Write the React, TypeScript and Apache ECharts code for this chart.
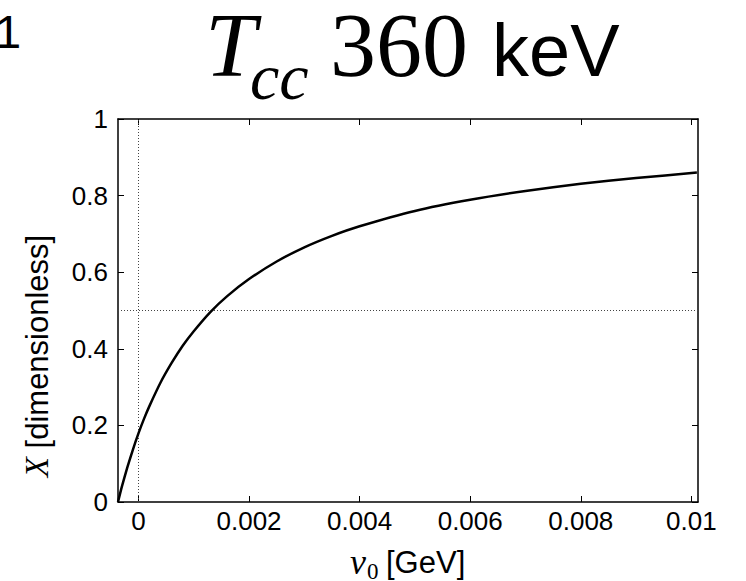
import React, { useEffect, useRef } from "react";
import * as echarts from "echarts";

// Data
const nuValues = [-0.00037, -0.0003, -0.0002, -0.0001, 0, 0.0001, 0.0002, 0.0004, 0.0006, 0.0008, 0.001, 0.0013, 0.0016, 0.002, 0.0025, 0.003, 0.0035, 0.004, 0.005, 0.006, 0.007, 0.008, 0.009, 0.0101];
const xValues = [0, 0.04, 0.091, 0.137, 0.179, 0.217, 0.251, 0.312, 0.363, 0.408, 0.446, 0.496, 0.537, 0.582, 0.628, 0.665, 0.695, 0.72, 0.76, 0.789, 0.812, 0.831, 0.846, 0.86];
const xTicks = [0, 0.002, 0.004, 0.006, 0.008, 0.01];
const xTickLabels = ["0", "0.002", "0.004", "0.006", "0.008", "0.01"];
const yTicks = [0, 0.2, 0.4, 0.6, 0.8, 1];
const yTickLabels = ["0", "0.2", "0.4", "0.6", "0.8", "1"];
const refX = 0;
const refY = 0.5;

const SANS = "'Liberation Sans', Arial, Helvetica, sans-serif";
const SERIF = "'Liberation Serif', 'Times New Roman', serif";

export default function App() {
  const ref = useRef<HTMLDivElement>(null);
  useEffect(() => {
    if (!ref.current) return;
    const chart = echarts.init(ref.current, undefined, { renderer: "svg" });
    const XMIN = -0.00037;
    const XMAX = 0.01012;
    const fmtX = (v: number) => {
      const i = xTicks.findIndex((t) => Math.abs(t - v) < 1e-9);
      return i >= 0 ? xTickLabels[i] : "";
    };
    const fmtY = (v: number) => {
      const i = yTicks.findIndex((t) => Math.abs(t - v) < 1e-9);
      return i >= 0 ? yTickLabels[i] : "";
    };
    const axisLine = { show: true, onZero: false, lineStyle: { color: "#000", width: 1.5 } };
    const xTick = {
      show: true,
      inside: true,
      length: 6,
      customValues: xTicks,
      lineStyle: { color: "#000", width: 1 },
    };
    const yTick = { show: true, inside: true, length: 6, lineStyle: { color: "#000", width: 1 } };
    chart.setOption({
      animation: false,
      backgroundColor: "#fff",
      grid: { left: 118, top: 119, width: 580, height: 383, containLabel: false },
      xAxis: [
        {
          type: "value",
          position: "bottom",
          min: XMIN,
          max: XMAX,
          axisLine,
          axisTick: xTick,
          splitLine: { show: false },
          axisLabel: {
            show: true,
            customValues: xTicks,
            formatter: fmtX,
            margin: 6,
            color: "#000",
            fontFamily: SANS,
            fontSize: 26,
          },
        },
        {
          type: "value",
          position: "top",
          min: XMIN,
          max: XMAX,
          axisLine,
          axisTick: xTick,
          splitLine: { show: false },
          axisLabel: { show: false },
        },
      ],
      yAxis: [
        {
          type: "value",
          position: "left",
          min: 0,
          max: 1,
          interval: 0.2,
          axisLine,
          axisTick: yTick,
          splitLine: { show: false },
          axisLabel: {
            show: true,
            formatter: fmtY,
            margin: 10,
            color: "#000",
            fontFamily: SANS,
            fontSize: 26,
          },
        },
        {
          type: "value",
          position: "right",
          min: 0,
          max: 1,
          interval: 0.2,
          axisLine,
          axisTick: yTick,
          splitLine: { show: false },
          axisLabel: { show: false },
        },
      ],
      series: [
        {
          type: "line",
          xAxisIndex: 0,
          yAxisIndex: 0,
          data: nuValues.map((v, i) => [v, xValues[i]]),
          showSymbol: false,
          smooth: 0.2,
          lineStyle: { color: "#000", width: 2.5 },
          z: 5,
          markLine: {
            silent: true,
            symbol: "none",
            label: { show: false },
            lineStyle: { color: "#444", width: 1, type: [1, 2] },
            data: [{ xAxis: refX }, { yAxis: refY }],
            z: 1,
          },
        },
      ],
      graphic: [
        { type: "text", x: -5, y: 31, style: { text: "1", fontFamily: SANS, fontSize: 47, fill: "#000", verticalAlign: "middle", align: "left" } },
        { type: "text", x: 205, y: 45, style: { text: "T", fontFamily: SERIF, fontStyle: "italic", fontSize: 92, fill: "#000", verticalAlign: "middle", align: "left" } },
        { type: "text", x: 250, y: 76, style: { text: "cc", fontFamily: SERIF, fontStyle: "italic", fontSize: 66, fill: "#000", verticalAlign: "middle", align: "left" } },
        { type: "text", x: 330, y: 45, style: { text: "360", fontFamily: SERIF, fontSize: 92, fill: "#000", verticalAlign: "middle", align: "left" } },
        { type: "text", x: 492, y: 50, style: { text: "keV", fontFamily: SANS, fontSize: 74, fill: "#000", verticalAlign: "middle", align: "left" } },
        {
          type: "text",
          x: 37,
          y: 356,
          rotation: Math.PI / 2,
          style: {
            text: "{x|X} [dimensionless]",
            fontFamily: SANS,
            fontSize: 31,
            fill: "#000",
            align: "center",
            verticalAlign: "middle",
            rich: { x: { fontFamily: SERIF, fontStyle: "italic", fontSize: 33, fill: "#000" } },
          },
        },
        { type: "text", x: 350, y: 562, style: { text: "ν", fontFamily: SERIF, fontStyle: "italic", fontSize: 36, fill: "#000", verticalAlign: "middle", align: "left" } },
        { type: "text", x: 367, y: 571, style: { text: "0", fontFamily: SERIF, fontSize: 23, fill: "#000", verticalAlign: "middle", align: "left" } },
        { type: "text", x: 386, y: 562, style: { text: "[GeV]", fontFamily: SANS, fontSize: 31, fill: "#000", verticalAlign: "middle", align: "left" } },
      ],
    });
    return () => chart.dispose();
  }, []);
  return <div ref={ref} style={{ width: 746, height: 581, position: "absolute", left: 0, top: 0 }} />;
}
